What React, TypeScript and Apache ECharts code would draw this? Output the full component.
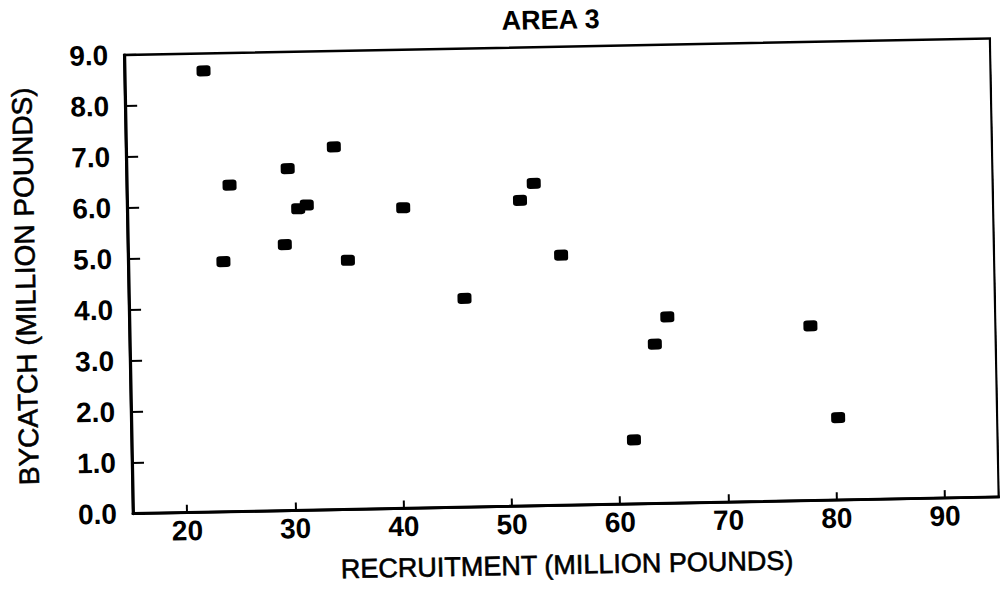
import React, { useEffect, useRef } from "react";
import * as echarts from "echarts";

const chartTitle = "AREA 3";
const xAxisTitle = "RECRUITMENT (MILLION POUNDS)";
const yAxisTitle = "BYCATCH (MILLION POUNDS)";

// Recruitment (million pounds)
const recruitment = [22.3, 24.5, 23.8, 29.9, 29.5, 30.8, 31.6, 34.2, 35.3, 40.5, 52.6, 51.3, 55.0, 46.0, 64.7, 63.5, 77.9, 61.4, 80.3];
// Bycatch (million pounds)
const bycatch = [8.66, 6.41, 4.91, 6.71, 5.22, 5.92, 5.99, 7.12, 4.89, 5.9, 6.33, 6.0, 4.91, 4.1, 3.66, 3.13, 3.43, 1.26, 1.62];

const xMin = 15;
const xMax = 95;
const yMin = 0;
const yMax = 9;

const FONT = "'Liberation Sans', Arial, Helvetica, sans-serif";

export default function App() {
  const ref = useRef<HTMLDivElement>(null);

  useEffect(() => {
    if (!ref.current) return;
    const chart = echarts.init(ref.current, undefined, { renderer: "svg" });
    const points = recruitment.map((x, i) => [x, bycatch[i]]);
    chart.setOption({
      animation: false,
      backgroundColor: "#ffffff",
      textStyle: { fontFamily: FONT, color: "#000" },
      grid: {
        left: 133,
        right: 1,
        top: 55,
        bottom: 78,
        show: true,
        borderColor: "#000",
        borderWidth: 2.5,
        containLabel: false,
      },
      graphic: [
        {
          type: "text",
          x: 560,
          y: 28,
          style: {
            text: chartTitle,
            font: `bold 27px ${FONT}`,
            fill: "#000",
            textAlign: "center",
            textVerticalAlign: "middle",
          },
        },
      ],
      xAxis: {
        type: "value",
        min: xMin,
        max: xMax,
        minInterval: 10,
        maxInterval: 10,
        name: xAxisTitle,
        nameLocation: "middle",
        nameGap: 46,
        nameTextStyle: {
          fontSize: 27,
          fontFamily: FONT,
          color: "#000",
          textBorderColor: "#000",
          textBorderWidth: 0.6,
        },
        axisLine: { show: true, onZero: false, lineStyle: { color: "#000", width: 3 } },
        axisTick: { show: true, inside: true, length: 8, lineStyle: { color: "#000", width: 2 } },
        axisLabel: {
          showMinLabel: false,
          showMaxLabel: false,
          margin: 4,
          fontSize: 28,
          fontWeight: "bold",
          fontFamily: FONT,
          color: "#000",
        },
        splitLine: { show: false },
      },
      yAxis: {
        type: "value",
        min: yMin,
        max: yMax,
        interval: 1,
        name: yAxisTitle,
        nameLocation: "middle",
        nameGap: 89,
        nameTextStyle: {
          fontSize: 28,
          fontFamily: FONT,
          color: "#000",
          textBorderColor: "#000",
          textBorderWidth: 0.6,
        },
        axisLine: { show: true, onZero: false, lineStyle: { color: "#000", width: 3 } },
        axisTick: { show: true, inside: true, length: 12, lineStyle: { color: "#000", width: 2 } },
        axisLabel: {
          margin: 16,
          fontSize: 28,
          fontWeight: "bold",
          fontFamily: FONT,
          color: "#000",
          formatter: (v: number) => v.toFixed(1),
        },
        splitLine: { show: false },
      },
      series: [
        {
          type: "scatter",
          data: points,
          symbol: "roundRect",
          symbolSize: [14, 11],
          itemStyle: { color: "#000", opacity: 1 },
        },
      ],
    });
    return () => chart.dispose();
  }, []);

  return (
    <div
      style={{
        position: "fixed",
        left: 0,
        top: 0,
        width: 1000,
        height: 592,
        background: "#fff",
        overflow: "hidden",
      }}
    >
      <div
        ref={ref}
        style={{
          width: 1000,
          height: 592,
          transform: "rotate(-1.1deg)",
          transformOrigin: "133px 514px",
        }}
      />
    </div>
  );
}
